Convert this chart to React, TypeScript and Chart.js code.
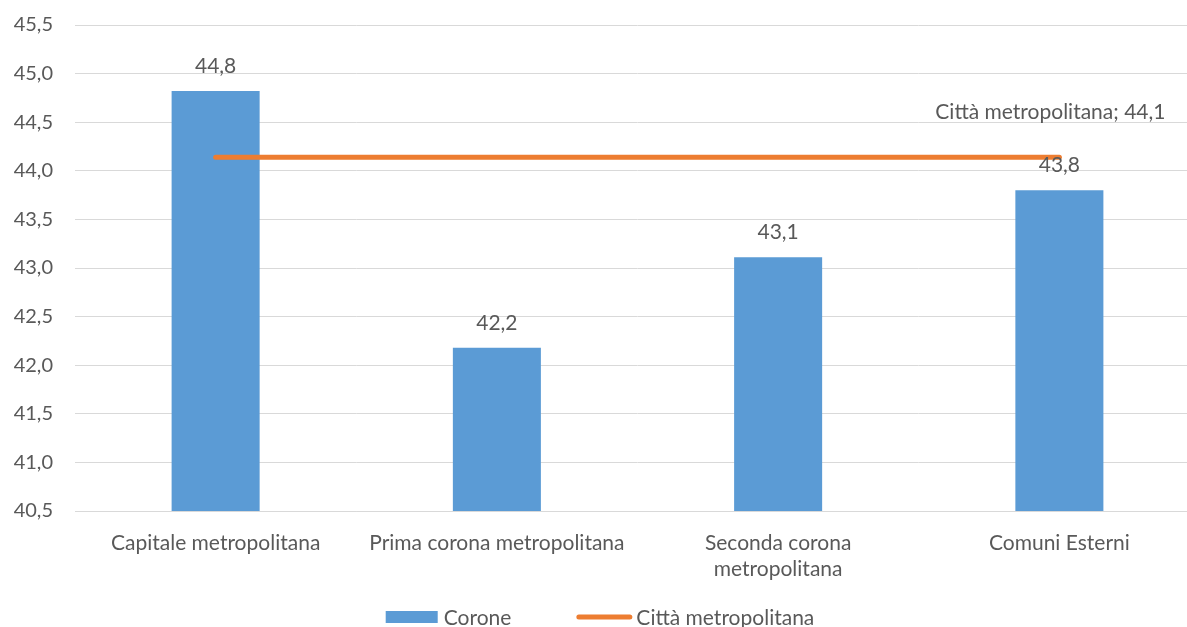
import React, { useEffect, useRef } from "react";
import { Chart, registerables } from "chart.js";

Chart.register(...registerables);

const categories: string[][] = [
  ["Capitale metropolitana"],
  ["Prima corona metropolitana"],
  ["Seconda corona", "metropolitana"],
  ["Comuni Esterni"],
];
const coroneValues = [44.82, 42.18, 43.11, 43.8];
const cittaValues = [44.14, 44.14, 44.14, 44.14];
const yMin = 40.5;
const yMax = 45.5;
const yStep = 0.5;
const seriesNames = ["Corone", "Città metropolitana"];

const FONT = "Lato, 'Open Sans', sans-serif";
const TEXT = "#595959";
const BAR = "#5B9BD5";
const LINE = "#ED7D31";
const GRID = "#D9D9D9";
const FS = 21;
const SHIFT = 9;
const CANVAS_W = 1200;
const CANVAS_H = 627 + SHIFT;

const fmt = (v: number) => v.toFixed(1).replace(".", ",");

const labelsPlugin = {
  id: "customLabels",
  afterDatasetsDraw(chart: any) {
    const ctx = chart.ctx;
    ctx.save();
    ctx.font = `${FS}px ${FONT}`;
    ctx.fillStyle = TEXT;
    ctx.textAlign = "center";
    ctx.textBaseline = "alphabetic";
    const barMeta = chart.getDatasetMeta(0);
    barMeta.data.forEach((el: any, i: number) => {
      ctx.fillText(fmt(coroneValues[i]), el.x, el.y - 18);
    });
    const lineMeta = chart.getDatasetMeta(1);
    const last = lineMeta.data[lineMeta.data.length - 1];
    if (last) {
      ctx.fillText(
        `${seriesNames[1]}; ${fmt(cittaValues[cittaValues.length - 1])}`,
        last.x - 9,
        last.y - 38
      );
    }
    ctx.restore();
  },
};

const legendPlugin = {
  id: "customLegend",
  afterDraw(chart: any) {
    const ctx = chart.ctx;
    ctx.save();
    ctx.font = `${FS}px ${FONT}`;
    const w1 = ctx.measureText(seriesNames[0]).width;
    const w2 = ctx.measureText(seriesNames[1]).width;
    const box = 52;
    const gap1 = 6;
    const spacing = 65;
    const lineW = 56;
    const gap2 = 4;
    const total = box + gap1 + w1 + spacing + lineW + gap2 + w2;
    let x = chart.width / 2 - total / 2;
    const cy = 617 + SHIFT;
    ctx.fillStyle = BAR;
    ctx.fillRect(x, cy - 6, box, 12);
    x += box + gap1;
    ctx.fillStyle = TEXT;
    ctx.textBaseline = "middle";
    ctx.textAlign = "left";
    ctx.fillText(seriesNames[0], x, cy + 1);
    x += w1 + spacing;
    ctx.strokeStyle = LINE;
    ctx.lineWidth = 5;
    ctx.lineCap = "round";
    ctx.beginPath();
    ctx.moveTo(x + 2.5, cy);
    ctx.lineTo(x + lineW - 2.5, cy);
    ctx.stroke();
    x += lineW + gap2;
    ctx.fillText(seriesNames[1], x, cy + 1);
    ctx.restore();
  },
};

export default function App() {
  const ref = useRef<HTMLCanvasElement | null>(null);

  useEffect(() => {
    if (!ref.current) return;
    const chart = new Chart(ref.current, {
      type: "bar",
      data: {
        labels: categories,
        datasets: [
          {
            type: "bar",
            label: seriesNames[0],
            data: coroneValues,
            backgroundColor: BAR,
            borderWidth: 0,
            categoryPercentage: 1,
            barPercentage: 0.313,
            order: 1,
          },
          {
            type: "line",
            label: seriesNames[1],
            data: cittaValues,
            borderColor: LINE,
            backgroundColor: LINE,
            borderWidth: 5,
            borderCapStyle: "round",
            pointRadius: 0,
            fill: false,
            order: 0,
          } as any,
        ],
      },
      options: {
        responsive: false,
        animation: false,
        devicePixelRatio: 1,
        layout: { padding: { top: 14, right: 0, bottom: 0, left: 0 } },
        plugins: {
          legend: { display: false },
          tooltip: { enabled: false },
        },
        scales: {
          x: {
            offset: true,
            grid: { display: false },
            border: { display: true, color: GRID },
            ticks: {
              color: TEXT,
              font: { family: FONT, size: FS, lineHeight: 1.2 },
              padding: 12,
              maxRotation: 0,
              autoSkip: false,
            },
            afterFit(scale: any) {
              scale.height = 116;
            },
          },
          y: {
            min: yMin,
            max: yMax,
            grid: { color: GRID, drawTicks: false },
            border: { display: false },
            ticks: {
              stepSize: yStep,
              color: TEXT,
              font: { family: FONT, size: 20 },
              padding: 22,
              callback: (v: any) => fmt(Number(v)),
            },
            afterFit(scale: any) {
              scale.width = 75;
            },
          },
        },
      },
      plugins: [labelsPlugin, legendPlugin],
    });
    return () => chart.destroy();
  }, []);

  return (
    <div
      style={{
        position: "fixed",
        left: 0,
        top: -SHIFT,
        width: CANVAS_W,
        height: CANVAS_H,
        background: "#fff",
        overflow: "hidden",
      }}
    >
      <canvas ref={ref} width={CANVAS_W} height={CANVAS_H} style={{ display: "block" }} />
    </div>
  );
}
